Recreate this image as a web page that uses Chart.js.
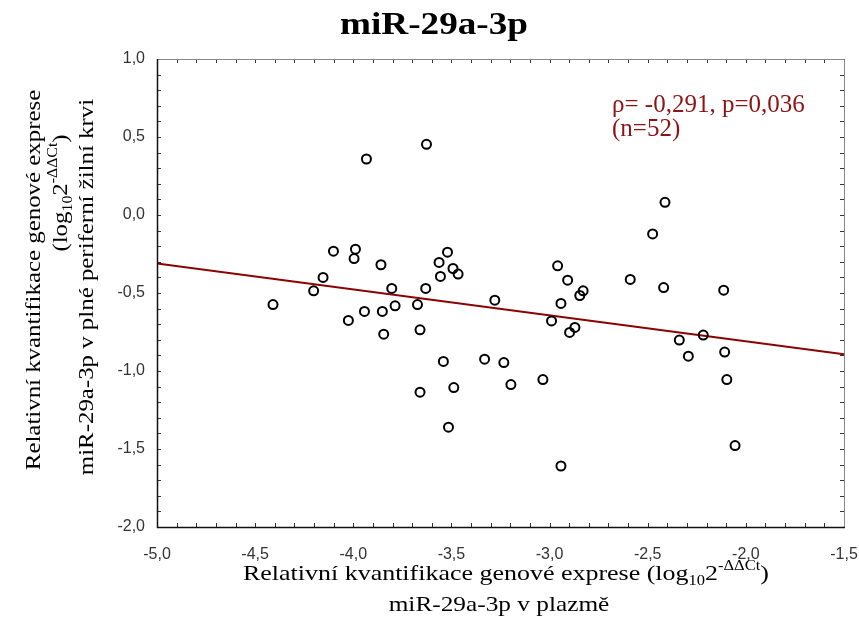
<!DOCTYPE html>
<html lang="cs">
<head>
<meta charset="UTF-8">
<title>miR-29a-3p</title>
<script src="https://cdn.jsdelivr.net/npm/chart.js"></script>
<style>
  body { margin: 0; background: #fff; }
  canvas { display: block; }
</style>
</head>
<body>
<canvas id="chart" width="859" height="633"></canvas>
<script>
// miR-29a-3p in plasma (x) vs whole peripheral venous blood (y)
const plasma = [
  -4.409, -4.202, -4.154, -4.101, -4.025, -3.996, -3.989, -3.943, -3.933, -3.859,
  -3.852, -3.845, -3.804, -3.787, -3.673, -3.660, -3.660, -3.631, -3.627, -3.563,
  -3.556, -3.541, -3.520, -3.515, -3.492, -3.488, -3.466, -3.331, -3.279, -3.233,
  -3.197, -3.034, -2.990, -2.959, -2.942, -2.942, -2.908, -2.898, -2.871, -2.846,
  -2.829, -2.589, -2.475, -2.419, -2.412, -2.339, -2.293, -2.217, -2.113, -2.108,
  -2.097, -2.055
];
const blood = [
  -0.574, -0.486, -0.400, -0.232, -0.676, -0.279, -0.219, -0.618, 0.359, -0.319,
  -0.618, -0.764, -0.471, -0.582, -0.574, -0.736, -1.136, -0.471, 0.453, -0.304,
  -0.394, -0.939, -0.238, -1.360, -0.343, -1.106, -0.379, -0.924, -0.546, -0.946,
  -1.087, -1.055, -0.679, -0.326, -0.567, -1.609, -0.418, -0.753, -0.721, -0.516,
  -0.486, -0.413, -0.121, -0.465, 0.081, -0.802, -0.905, -0.770, -0.482, -0.879,
  -1.055, -1.478
];
// regression line, end points
const fitX = [-5.0, -1.5];
const fitY = [-0.311, -0.892];

const xRange = [-5.0, -1.5];
const yRange = [-2.0, 1.0];
const statLines = ['\u03c1= -0,291, p=0,036', '(n=52)'];

const serif = '"Liberation Serif", "Times New Roman", serif';
const sans = '"Liberation Sans", Arial, sans-serif';

// draw text made of normal / sub (-1) / sup (1) pieces, centred on cx, baseline at cy
function drawRich(ctx, parts, cx, cy, size, sx, rot, bold) {
  const w8 = bold ? 'bold ' : '';
  const small = Math.round(size * 0.65);
  ctx.save();
  ctx.translate(cx, cy);
  ctx.rotate(rot);
  ctx.scale(sx, 1);
  ctx.textBaseline = 'alphabetic';
  ctx.textAlign = 'left';
  let total = 0;
  parts.forEach(p => {
    ctx.font = w8 + (p[1] ? small : size) + 'px ' + serif;
    total += ctx.measureText(p[0]).width;
  });
  let x = -total / 2;
  parts.forEach(p => {
    ctx.font = w8 + (p[1] ? small : size) + 'px ' + serif;
    const dy = p[1] === -1 ? size * 0.22 : p[1] === 1 ? -size * 0.45 : 0;
    ctx.fillText(p[0], x, dy);
    x += ctx.measureText(p[0]).width;
  });
  ctx.restore();
}

const framePlugin = {
  id: 'frame',
  afterDatasetsDraw(chart) {
    const { ctx, chartArea: a, scales } = chart;
    ctx.save();
    // inward ticks every 0.1 on all four sides
    ctx.strokeStyle = '#333';
    ctx.lineWidth = 1;
    ctx.beginPath();
    for (let i = 0; i <= 35; i++) {
      const px = Math.round(scales.x.getPixelForValue(xRange[0] + i / 10)) + 0.5;
      ctx.moveTo(px, a.bottom); ctx.lineTo(px, a.bottom - 4);
      ctx.moveTo(px, a.top); ctx.lineTo(px, a.top + 4);
    }
    for (let i = 0; i <= 30; i++) {
      const py = Math.round(scales.y.getPixelForValue(yRange[0] + i / 10)) + 0.5;
      ctx.moveTo(a.left, py); ctx.lineTo(a.left + 4, py);
      ctx.moveTo(a.right, py); ctx.lineTo(a.right - 4, py);
    }
    ctx.stroke();
    // frame: dark left/bottom, grey top/right
    ctx.strokeStyle = '#888';
    ctx.beginPath();
    ctx.moveTo(a.left, a.top + 0.5); ctx.lineTo(a.right + 0.5, a.top + 0.5);
    ctx.lineTo(a.right + 0.5, a.bottom);
    ctx.stroke();
    ctx.strokeStyle = '#111';
    ctx.lineWidth = 1.5;
    ctx.beginPath();
    ctx.moveTo(a.left + 0.5, a.top); ctx.lineTo(a.left + 0.5, a.bottom + 0.5);
    ctx.lineTo(a.right + 1, a.bottom + 0.5);
    ctx.stroke();
    ctx.restore();
  }
};

const textPlugin = {
  id: 'texts',
  afterDraw(chart) {
    const ctx = chart.ctx;
    ctx.fillStyle = '#000';
    drawRich(ctx, [['miR-29a-3p', 0]], 434, 34, 31, 1.2, 0, true);

    // x axis title
    drawRich(ctx, [['Relativní kvantifikace genové exprese (log', 0], ['10', -1], ['2', 0],
      ['-\u0394\u0394Ct', 1], [')', 0]], 506, 580, 22, 1.18, 0, false);
    drawRich(ctx, [['miR-29a-3p v plazmě', 0]], 499, 611, 22, 1.15, 0, false);

    // y axis title (rotated)
    const up = -Math.PI / 2;
    drawRich(ctx, [['Relativní kvantifikace genové exprese', 0]], 40, 280, 22, 1.13, up, false);
    drawRich(ctx, [['(log', 0], ['10', -1], ['2', 0], ['-\u0394\u0394Ct', 1], [')', 0]], 67, 193, 22, 1.13, up, false);
    drawRich(ctx, [['miR-29a-3p v plné periferní žilní krvi', 0]], 93, 287, 22, 1.13, up, false);

    // correlation note
    ctx.save();
    ctx.fillStyle = '#8c1414';
    ctx.font = '25px ' + serif;
    ctx.textAlign = 'left';
    ctx.textBaseline = 'alphabetic';
    ctx.fillText(statLines[0], 612, 112);
    ctx.fillText(statLines[1], 612, 136);
    ctx.restore();
  }
};

const comma = v => v.toFixed(1).replace('.', ',');

new Chart(document.getElementById('chart'), {
  type: 'scatter',
  data: {
    datasets: [
      {
        type: 'scatter',
        data: plasma.map((x, i) => ({ x: x, y: blood[i] })),
        pointRadius: 4.5,
        pointBorderWidth: 2,
        pointBorderColor: '#000',
        pointBackgroundColor: 'rgba(255,255,255,0)',
        order: 1
      },
      {
        type: 'line',
        data: fitX.map((x, i) => ({ x: x, y: fitY[i] })),
        borderColor: '#8b0000',
        borderWidth: 2,
        pointRadius: 0,
        fill: false,
        order: 2
      }
    ]
  },
  options: {
    responsive: false,
    animation: false,
    events: [],
    layout: { padding: { top: 59, right: 15, left: 0, bottom: 0 } },
    plugins: { legend: { display: false }, tooltip: { enabled: false } },
    scales: {
      x: {
        type: 'linear',
        min: xRange[0], max: xRange[1],
        grid: { display: false, drawTicks: false },
        border: { display: false },
        ticks: { stepSize: 0.5, padding: 18, color: '#333', font: { family: sans, size: 16 }, callback: comma },
        afterFit(s) { s.height = 106; s.paddingLeft = 0; s.paddingRight = 0; }
      },
      y: {
        type: 'linear',
        min: yRange[0], max: yRange[1],
        grid: { display: false, drawTicks: false },
        border: { display: false },
        ticks: { stepSize: 0.5, padding: 12, color: '#333', font: { family: sans, size: 16 }, callback: comma },
        afterFit(s) { s.width = 157; s.paddingTop = 0; s.paddingBottom = 0; }
      }
    }
  },
  plugins: [framePlugin, textPlugin]
});
</script>
</body>
</html>
